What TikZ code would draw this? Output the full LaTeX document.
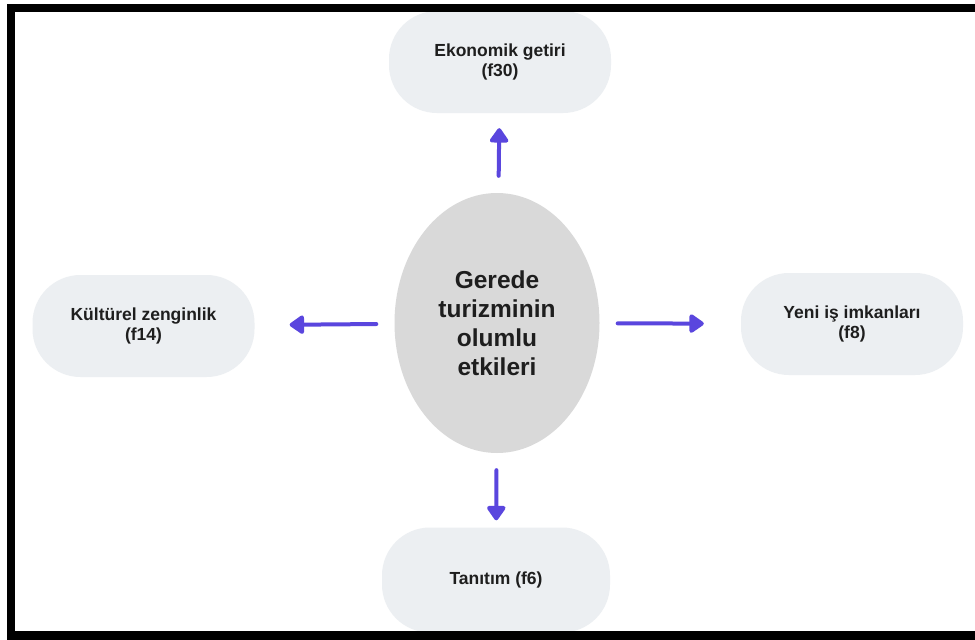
\documentclass[tikz,border=0pt]{standalone}
\usepackage{fontspec}
\setmainfont{Liberation Sans}
\usetikzlibrary{arrows.meta,shapes.geometric}
\definecolor{pillfill}{HTML}{ECEFF2}
\definecolor{hubfill}{HTML}{D9D9D9}
\definecolor{arrowcol}{HTML}{5A46DE}
\definecolor{txt}{HTML}{1E1E1E}
\begin{document}
\begin{tikzpicture}[x=1pt,y=-1pt,
  pill/.style={rectangle, rounded corners=48pt, fill=pillfill, minimum width=222pt, minimum height=102pt,
    align=center, text=txt, font=\fontsize{17.5}{20}\selectfont\bfseries, inner sep=0pt},
  hub/.style={ellipse, fill=hubfill, minimum width=205pt, minimum height=260pt, inner sep=0pt,
    align=center, text=txt, font=\fontsize{24.5}{29}\selectfont\bfseries},
  conn/.style={draw=arrowcol, line width=4pt, line cap=round,
    -{Triangle[width=21pt,length=16pt,round]}}]
\useasboundingbox (0,0) rectangle (975,640);
\fill[white] (0,0) rectangle (975,640);
\node[hub] (c) at (497,323) {Gerede\\turizminin\\olumlu\\etkileri};
\node[pill] (top) at (500,62) {Ekonomik getiri\\(f30)};
\node[pill] (left) at (143.5,326) {Kültürel zenginlik\\(f14)};
\node[pill] (right) at (852,324) {Yeni iş imkanları\\(f8)};
\node[pill, minimum width=228pt, minimum height=105pt] (bot) at (496,580) {Tanıtım (f6)};
\draw[conn, shorten <=17pt, shorten >=15pt] (c) -- (top);
\draw[conn, shorten <=18pt, shorten >=35pt] (c) -- (left);
\draw[conn, shorten <=18pt, shorten >=37pt] (c) -- (right);
\draw[conn, shorten <=17pt, shorten >=7pt] (c) -- (bot);
\fill[black] (7,4) rectangle (975,12);
\fill[black] (7,4) rectangle (15,640);
\fill[black] (7,631) rectangle (975,640);
\end{tikzpicture}
\end{document}
